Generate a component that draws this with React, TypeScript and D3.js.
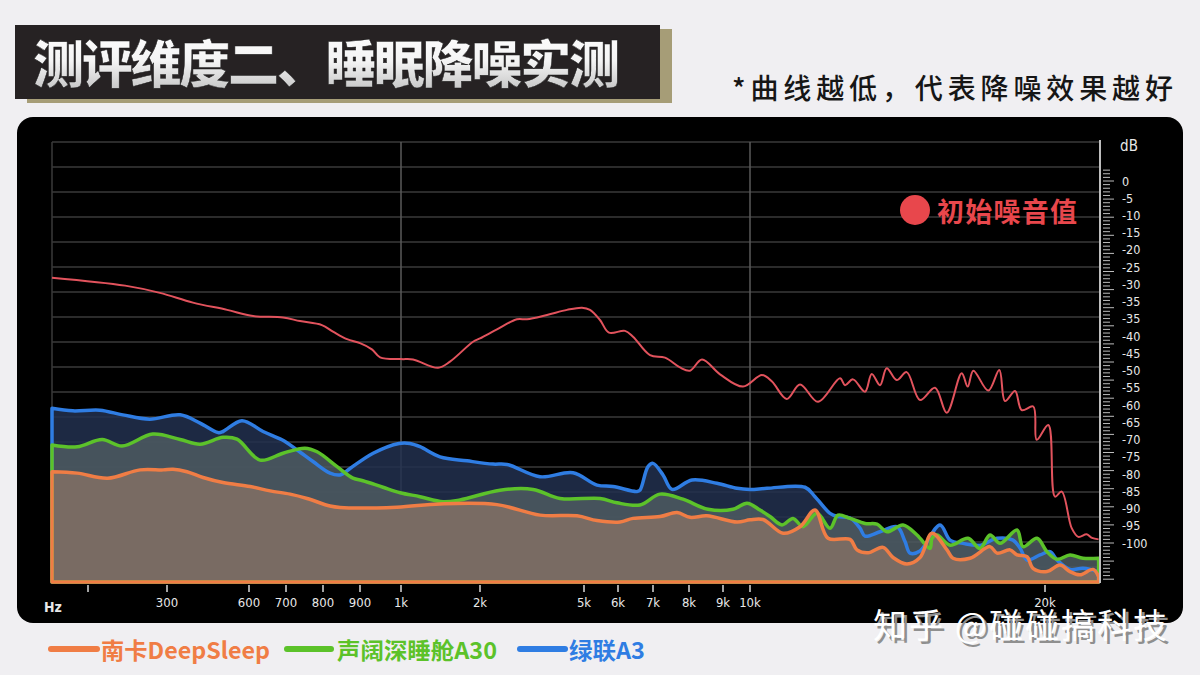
import React from "react";
import * as d3 from "d3";

// ---------------- DATA ----------------
const xTickFreqs = [200, 300, 600, 700, 800, 900, 1000, 2000, 5000, 6000, 7000, 8000, 9000, 10000, 20000];
const xTickLabels = ["", "300", "600", "700", "800", "900", "1k", "2k", "5k", "6k", "7k", "8k", "9k", "10k", "20k"];
const freqMin = 150;
const freqMax = 24000;
const gridFreqs = [1000, 10000];
const yTickLabels = ["0", "-5", "-10", "-15", "-20", "-25", "-30", "-35", "-35", "-40", "-45", "-50", "-55", "-60", "-65", "-70", "-75", "-80", "-85", "-90", "-95", "-100"];
const baseDb = -110.8;

// initial noise (red)
const noiseCurve: [number, number][] = [
  [150, -26.7], [247, -28.9], [291, -30.9], [395, -33.6], [520, -35.6], [611, -37.3], [692, -37.7], [738, -38.7],
  [797, -39.8], [827, -41.6], [865, -43.7], [900, -44.8], [929, -46.5], [949, -48.7], [1000, -49.2], [1152, -49.3],
  [1468, -51.6], [1620, -49.9], [1912, -44.4], [2000, -43.5], [2490, -41.0], [3067, -38.2], [3356, -38.2], [3933, -37.0],
  [4510, -35.6], [4943, -35.0], [5176, -35.6], [5471, -38.4], [5735, -41.9], [6200, -41.4], [6429, -43.0], [6914, -48.1],
  [7333, -48.8], [7750, -51.5], [8029, -52.4], [8382, -49.3], [8912, -53.4], [9741, -56.8], [10407, -53.6], [10746, -55.4],
  [11244, -60.2], [11695, -56.2], [12305, -61.0], [13051, -54.5], [13221, -56.4], [13492, -54.8], [13899, -58.2], [14126, -53.3],
  [14407, -56.4], [14634, -51.7], [14973, -55.0], [15312, -52.8], [15763, -60.5], [16272, -57.1], [16668, -64.0], [17177, -53.1],
  [17380, -56.8], [17570, -52.4], [18078, -57.9], [18451, -52.2], [18645, -60.8], [18984, -58.0], [19211, -63.3], [19603, -62.3],
  [19719, -71.5], [20240, -67.4], [20727, -87.2], [21215, -85.8], [21942, -95.9], [22422, -98.3], [23033, -97.6], [23418, -98.6],
  [23900, -99.0],
];

// 绿联A3 (blue)
const ugreenCurve: [number, number][] = [
  [150, -62.8], [179, -63.5], [215, -63.3], [244, -64.6], [278, -65.8], [348, -64.6], [421, -66.9], [487, -69.5],
  [505, -69.2], [574, -66.2], [638, -69.2], [689, -71.5], [730, -74.3], [773, -77.5], [819, -80.7], [846, -81.2],
  [873, -79.4], [932, -75.2], [995, -72.5], [1114, -72.5], [1241, -73.4], [1494, -76.2], [1836, -77.3], [2375, -78.2],
  [2779, -78.3], [3731, -81.7], [4683, -80.6], [5382, -84.0], [5853, -84.4], [6543, -85.8], [6629, -85.4], [6857, -78.9],
  [7000, -78.0], [7278, -81.2], [7528, -85.2], [8088, -82.6], [8823, -83.5], [9519, -84.9], [10000, -85.2], [10576, -84.9],
  [11865, -84.6], [12204, -87.2], [12712, -91.8], [12983, -92.7], [13390, -93.1], [13729, -95.9], [13899, -98.1], [14407, -96.9],
  [14983, -95.5], [15255, -99.6], [15424, -102.8], [15763, -102.2], [16441, -95.0], [16780, -99.2], [17221, -100.1], [17797, -100.6],
  [18373, -98.7], [18915, -99.2], [19153, -101.4], [19390, -104.7], [19830, -103.3], [20364, -102.4], [20873, -104.7], [21818, -107.3],
  [22764, -107.0], [23900, -107.9],
];

// 声阔深睡舱A30 (green)
const soundcoreCurve: [number, number][] = [
  [150, -72.9], [185, -73.4], [218, -71.4], [243, -73.2], [282, -69.9], [348, -71.4], [421, -72.7], [505, -70.8],
  [556, -71.3], [630, -77.1], [692, -75.2], [751, -73.8], [784, -74.8], [838, -78.9], [881, -82.1], [907, -82.8],
  [956, -84.6], [998, -86.1], [1241, -87.2], [1532, -88.6], [1747, -88.1], [2577, -85.4], [3529, -85.2], [4308, -87.7],
  [5471, -87.7], [5971, -88.9], [6629, -89.5], [7194, -86.5], [7833, -87.9], [8559, -90.7], [9370, -90.7], [9889, -89.0],
  [10339, -90.9], [10678, -92.7], [11085, -95.0], [11458, -93.2], [11797, -95.5], [12271, -91.8], [12712, -95.9], [12983, -92.3],
  [13390, -93.2], [13899, -94.6], [14305, -94.8], [14644, -96.9], [15187, -95.0], [15661, -97.8], [16102, -101.5], [16170, -98.7],
  [16339, -97.8], [16780, -100.6], [17390, -98.7], [17797, -101.5], [18136, -97.8], [18475, -100.1], [19051, -96.4], [19255, -101.0],
  [19729, -98.7], [20145, -102.4], [20873, -104.5], [21818, -103.3], [22764, -104.2], [23900, -104.2],
];

// 南卡DeepSleep (orange)
const nankaCurve: [number, number][] = [
  [150, -80.3], [185, -80.7], [225, -82.1], [266, -79.8], [295, -79.8], [322, -79.6], [373, -80.3], [432, -81.9],
  [505, -83.3], [603, -84.4], [657, -85.6], [711, -86.5], [757, -87.7], [819, -89.8], [846, -90.2], [990, -90.1],
  [1494, -89.2], [2490, -89.4], [3731, -92.3], [4798, -92.5], [5382, -93.8], [6057, -94.2], [6429, -93.2], [7194, -92.7],
  [7667, -91.6], [8029, -92.9], [8529, -92.5], [9519, -94.2], [10000, -93.6], [10441, -93.5], [11119, -97.3], [11695, -95.5],
  [12204, -90.9], [12644, -98.7], [13390, -99.0], [13627, -101.9], [14000, -102.7], [14509, -101.2], [14848, -104.0], [15323, -105.8],
  [15763, -104.0], [16170, -97.3], [16678, -101.9], [16882, -104.2], [17458, -104.2], [18136, -101.0], [18373, -102.8], [18814, -101.9],
  [19051, -103.3], [19390, -103.8], [19593, -107.0], [20145, -107.9], [21091, -106.1], [21818, -107.9], [22546, -108.8], [23491, -107.3],
  [23900, -109.3],
];

const legendNames = ["南卡DeepSleep", "声阔深睡舱A30", "绿联A3"];
const titleText = "测评维度二、睡眠降噪实测";
const subtitleText = "*曲线越低，代表降噪效果越好";
const noiseLabel = "初始噪音值";
const watermarkText = "知乎 @碰碰搞科技";

// ---------------- LAYOUT / STYLE ----------------
const W = 1200;
const H = 675;
const PLOT = { left: 52, right: 1100, top: 142, bottom: 583 };
const X_KNOTS_PX = [52, 88, 167, 249, 286, 323, 360, 401, 480, 584, 618, 653, 689, 723, 750, 1045, 1100];
const Y0_PX = 181;
const Y100_PX = 543;
const GRID_STEP = 25;
const GRID_COUNT = 18;

const COLORS = {
  page: "#f0eff2",
  panel: "#000000",
  grid: "#3a3a3a",
  vgrid: "#5a5a5a",
  axis: "#bdbdbd",
  red: "#e2535d",
  orange: "#f07d45",
  green: "#5cc22a",
  blue: "#2f7de3",
  blueFill: "#22304f",
  greenFill: "#4d5b60",
  orangeFill: "#837064",
  label: "#e8e8e8",
};

const CJK = "'Noto Sans CJK SC', 'Noto Sans', sans-serif";
const NARROW = "'DejaVu Sans Condensed', 'Liberation Sans Narrow', 'DejaVu Sans', sans-serif";

export default function App() {
  const x = d3
    .scaleLinear()
    .domain([freqMin, ...xTickFreqs, freqMax])
    .range(X_KNOTS_PX);
  const y = d3.scaleLinear().domain([0, -100]).range([Y0_PX, Y100_PX]);

  const curve = d3.curveCatmullRom.alpha(0.5);
  const area = d3
    .area<[number, number]>()
    .x((d) => x(d[0]))
    .y0(y(baseDb))
    .y1((d) => y(d[1]))
    .curve(curve);
  const line = d3
    .line<[number, number]>()
    .x((d) => x(d[0]))
    .y((d) => y(d[1]))
    .curve(curve);

  const series = [
    { data: ugreenCurve, fill: COLORS.blueFill, stroke: COLORS.blue },
    { data: soundcoreCurve, fill: COLORS.greenFill, stroke: COLORS.green },
    { data: nankaCurve, fill: COLORS.orangeFill, stroke: COLORS.orange },
  ];

  const hGrid = d3.range(GRID_COUNT).map((i) => PLOT.top + i * GRID_STEP);
  const rulerTicks = d3.range(3, -111, -1);
  const labelStep = (Y100_PX - Y0_PX) / (yTickLabels.length - 1);

  const legend = [
    { name: legendNames[0], color: COLORS.orange, x0: 51, x1: 97, tx: 101, tl: 169 },
    { name: legendNames[1], color: COLORS.green, x0: 287, x1: 331, tx: 337, tl: 160 },
    { name: legendNames[2], color: COLORS.blue, x0: 520, x1: 565, tx: 569, tl: 76 },
  ];

  return (
    <svg
      width={W}
      height={H}
      viewBox={`0 0 ${W} ${H}`}
      style={{ position: "absolute", left: 0, top: 0, display: "block" }}
    >
      <defs>
        <linearGradient id="titleGrad" x1="0" y1="0" x2="0" y2="1">
          <stop offset="0%" stopColor="#ffffff" />
          <stop offset="50%" stopColor="#f4f4f4" />
          <stop offset="100%" stopColor="#b9b9b9" />
        </linearGradient>
        <clipPath id="plotClip">
          <rect x={PLOT.left - 4} y={PLOT.top - 4} width={PLOT.right - PLOT.left + 6} height={PLOT.bottom - PLOT.top + 6} />
        </clipPath>
      </defs>
      <rect x={0} y={0} width={W} height={H} fill={COLORS.page} />

      {/* Title */}
      <rect x={27} y={29} width={645} height={74} fill="#a69d77" />
      <rect x={15} y={25} width={645} height={74} fill="#262223" />
      <text
        x={33}
        y={61}
        dominantBaseline="central"
        fontFamily={CJK}
        fontWeight={900}
        fontSize={51}
        textLength={587}
        lengthAdjust="spacing"
        fill="url(#titleGrad)"
        stroke="#1a1a1a"
        strokeWidth={0.5}
      >
        {titleText}
      </text>

      <text
        x={732}
        y={87}
        dominantBaseline="central"
        fontFamily={CJK}
        fontWeight={500}
        fontSize={28}
        textLength={441}
        lengthAdjust="spacing"
        fill="#161616"
      >
        {subtitleText}
      </text>

      {/* Panel */}
      <rect x={17} y={117} width={1166} height={506} rx={16} fill={COLORS.panel} />

      {/* grid */}
      {hGrid.map((gy, i) => (
        <line key={"h" + i} x1={PLOT.left} x2={PLOT.right} y1={gy} y2={gy} stroke={COLORS.grid} strokeWidth={1.5} />
      ))}
      <line x1={PLOT.left} x2={PLOT.left} y1={PLOT.top} y2={y(baseDb)} stroke={COLORS.grid} strokeWidth={1.5} />
      {gridFreqs.map((f) => (
        <line key={"v" + f} x1={x(f)} x2={x(f)} y1={PLOT.top} y2={y(baseDb)} stroke={COLORS.vgrid} strokeWidth={1.5} />
      ))}

      {/* areas */}
      <g clipPath="url(#plotClip)">
        {series.map((s, i) => (
          <path key={"a" + i} d={area(s.data) || ""} fill={s.fill} fillOpacity={0.85} stroke="none" />
        ))}
        {series.map((s, i) => (
          <path
            key={"s" + i}
            d={area(s.data) || ""}
            fill="none"
            stroke={s.stroke}
            strokeWidth={3.5}
            strokeLinejoin="round"
          />
        ))}
        <path d={line(noiseCurve) || ""} fill="none" stroke={COLORS.red} strokeWidth={2} strokeLinejoin="round" />
      </g>

      {/* right dB axis */}
      <line x1={PLOT.right} x2={PLOT.right} y1={PLOT.top - 2} y2={PLOT.bottom} stroke={COLORS.axis} strokeWidth={2} />
      {rulerTicks.map((v) => (
        <line
          key={"r" + v}
          x1={PLOT.right + 3}
          x2={PLOT.right + 3 + (v % 5 === 0 ? 11 : 7)}
          y1={y(v)}
          y2={y(v)}
          stroke={COLORS.axis}
          strokeWidth={1}
        />
      ))}
      {yTickLabels.map((t, i) => (
        <text
          key={"yl" + i}
          x={PLOT.right + 22}
          y={Y0_PX + i * labelStep}
          dominantBaseline="central"
          fontFamily={NARROW}
          fontSize={12.5}
          fill={COLORS.label}
        >
          {t}
        </text>
      ))}
      <text x={1129} y={146} textAnchor="middle" dominantBaseline="central" fontFamily={NARROW} fontSize={15} fill={COLORS.label}>
        dB
      </text>

      {/* bottom axis */}
      {xTickFreqs.map((f, i) => (
        <g key={"xt" + f}>
          <line x1={x(f)} x2={x(f)} y1={PLOT.bottom + 2} y2={PLOT.bottom + 9} stroke="#d8d8d8" strokeWidth={1.5} />
          <text
            x={x(f)}
            y={602}
            textAnchor="middle"
            dominantBaseline="central"
            fontFamily={NARROW}
            fontSize={13}
            fill={COLORS.label}
          >
            {xTickLabels[i]}
          </text>
        </g>
      ))}
      <text x={53} y={607} textAnchor="middle" dominantBaseline="central" fontFamily={NARROW} fontSize={14} fontWeight={700} fill={COLORS.label}>
        Hz
      </text>

      {/* noise label */}
      <circle cx={915} cy={210} r={15} fill="#e8474c" />
      <text
        x={937}
        y={210}
        dominantBaseline="central"
        fontFamily={CJK}
        fontWeight={700}
        fontSize={27}
        textLength={140}
        lengthAdjust="spacing"
        fill="#e8474c"
      >
        {noiseLabel}
      </text>

      {/* watermark */}
      <text x={876} y={641} fontFamily={CJK} fontSize={34} textLength={294} lengthAdjust="spacing" fill="#8f8f8f">
        {watermarkText}
      </text>
      <text x={873} y={638} fontFamily={CJK} fontSize={34} textLength={294} lengthAdjust="spacing" fill="#ffffff">
        {watermarkText}
      </text>

      {/* legend */}
      {legend.map((l) => (
        <g key={l.name}>
          <line x1={l.x0} x2={l.x1} y1={649} y2={649} stroke={l.color} strokeWidth={6} strokeLinecap="round" />
          <text
            x={l.tx}
            y={649}
            dominantBaseline="central"
            fontFamily={CJK}
            fontWeight={700}
            fontSize={23}
            textLength={l.tl}
            lengthAdjust="spacingAndGlyphs"
            fill={l.color}
          >
            {l.name}
          </text>
        </g>
      ))}
    </svg>
  );
}
